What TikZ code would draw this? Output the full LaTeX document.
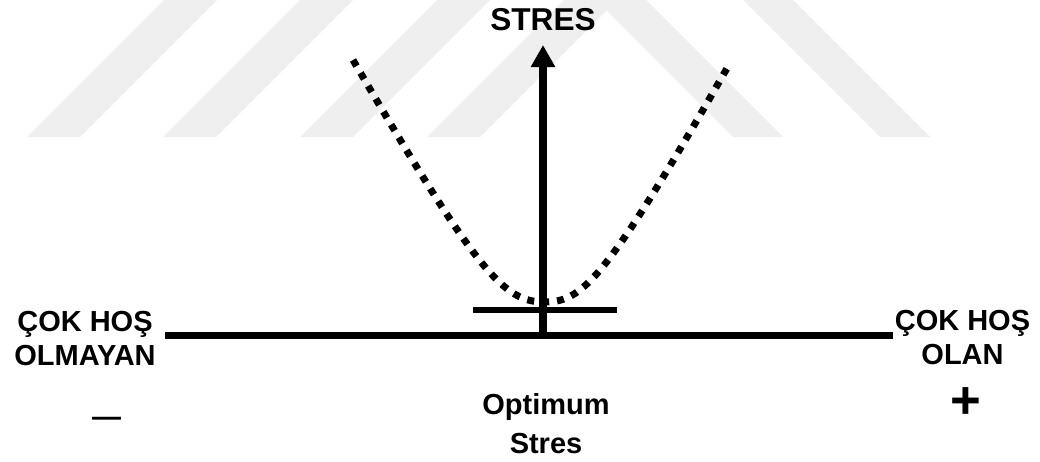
\documentclass[tikz,border=0pt]{standalone}
\usepackage{fontspec}
\setmainfont{Liberation Sans}
\usepackage{tikz}
\usetikzlibrary{arrows.meta, positioning}
\definecolor{MarkGray}{HTML}{EFEFEF}

\begin{document}
\begin{tikzpicture}[
		x=0.02cm, y=-0.02cm,
		lbl/.style={inner sep=0pt, align=center,
			font=\fontsize{16.5}{18.8}\selectfont\bfseries},
		axisline/.style={line width=4pt},
		barline/.style={line width=3.4pt},
		arr/.style={line width=4.3pt, -{Triangle[length=0.44cm, width=0.46cm]}},
		dots/.style={line width=0.14cm, dash pattern=on 0.14cm off 0.16cm},
		band/.style={fill=MarkGray, draw=none},
		]
		\useasboundingbox (0,0) rectangle (1040,461);
		% ── Background watermark bands ───────────────────────────────────────────────
		\begin{scope}
			\clip (0,0) rectangle (1040,461);
			\foreach \b in {27,163,300,427}
			\fill[band] (\b,137) -- ++(53,0) -- ++(137,-137) -- ++(-53,0) -- cycle;
			\foreach \b in {733,880}
			\fill[band] (\b,137) -- ++(50,0) -- ++(-137,-137) -- ++(-50,0) -- cycle;
		\end{scope}
		% ── Axes ─────────────────────────────────────────────────────────────────────
		\coordinate (hl)  at (165,335.5);
		\coordinate (hr)  at (893,335.5);
		\coordinate (o)   at (543,335.5);
		\coordinate (top) at (543,45);
		\coordinate (bl)  at (473,310);
		\coordinate (br)  at (617,310);
		\draw[axisline] (hl) -- (hr);
		\draw[arr]      (o)  -- (top);
		\draw[barline]  (bl) -- (br);
		% ── Dotted stress curve ──────────────────────────────────────────────────────
		\coordinate (cl) at (353,60);
		\coordinate (vx) at (545,302);
		\coordinate (cr) at (730,63);
		\draw[dots] (cl) .. controls (480,278) and (505,302) .. (vx)
		.. controls (583,302) and (607,278) .. (cr);
		% ── Labels (base = last line) ────────────────────────────────────────────────
		\node[lbl, above=0.28cm of top, font=\fontsize{18}{20}\selectfont\bfseries]
		(ylab) {STRES};
		\node[lbl, anchor=base] at (85,365)         (neg)  {ÇOK HOŞ\\OLMAYAN};
		\node[lbl, anchor=base] at (962.5,364)      (pos)  {ÇOK HOŞ\\OLAN};
		\node[lbl, anchor=base] at (546,453)        (opt)  {Optimum\\[0.1cm]Stres};
		\node[lbl, anchor=base] at (106.5,426)      (minus){—};
		\node[lbl, anchor=base, font=\fontsize{30}{30}\selectfont\bfseries]
		at (966,418) (plus) {+};
	\end{tikzpicture}
\end{document}
